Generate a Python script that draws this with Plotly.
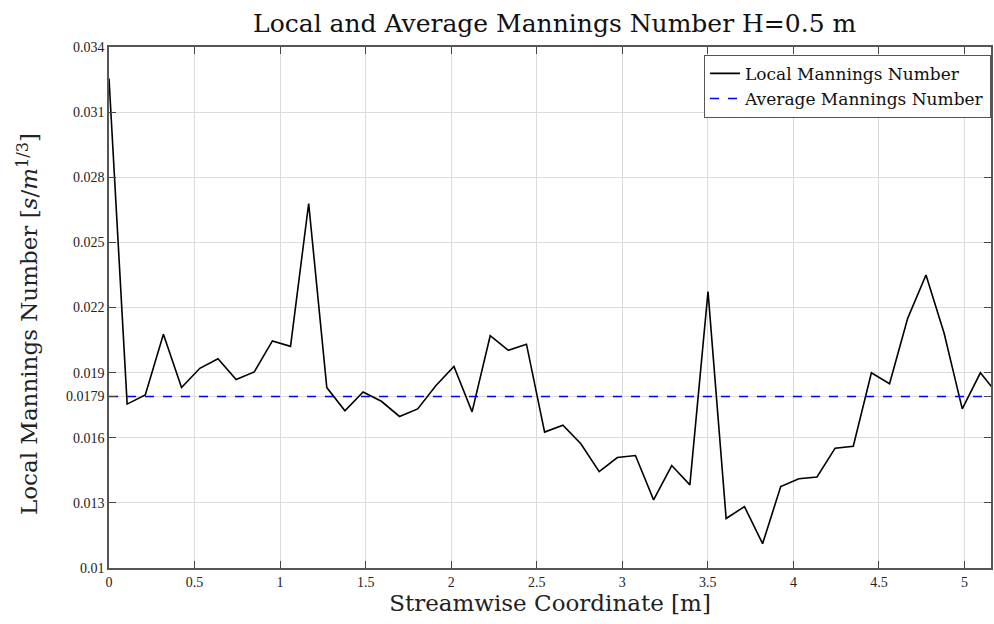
import plotly.graph_objects as go

# Streamwise positions [m] and local Manning numbers [s/m^(1/3)]
x_pos = [0.000, 0.106, 0.212, 0.318, 0.424, 0.531, 0.637, 0.743, 0.849, 0.955,
         1.061, 1.167, 1.273, 1.379, 1.485, 1.592, 1.698, 1.804, 1.910, 2.016,
         2.122, 2.228, 2.334, 2.440, 2.546, 2.653, 2.759, 2.865, 2.971, 3.077,
         3.183, 3.289, 3.395, 3.501, 3.607, 3.714, 3.820, 3.926, 4.032, 4.138,
         4.244, 4.350, 4.456, 4.562, 4.668, 4.775, 4.881, 4.987, 5.093, 5.199]
n_local = [0.03255, 0.01755, 0.01797, 0.02077, 0.01831, 0.01920, 0.01964, 0.01868, 0.01903, 0.02046,
           0.02021, 0.02679, 0.01831, 0.01724, 0.01811, 0.01768, 0.01698, 0.01733, 0.01840, 0.01928,
           0.01719, 0.02070, 0.02003, 0.02031, 0.01626, 0.01658, 0.01571, 0.01444, 0.01509, 0.01518,
           0.01314, 0.01472, 0.01383, 0.02273, 0.01228, 0.01283, 0.01112, 0.01375, 0.01411, 0.01419,
           0.01552, 0.01561, 0.01899, 0.01849, 0.02150, 0.02350, 0.02081, 0.01733, 0.01899, 0.01796]
n_average = 0.0179

x_ticks = [0, 0.5, 1, 1.5, 2, 2.5, 3, 3.5, 4, 4.5, 5]
x_tick_text = ["0", "0.5", "1", "1.5", "2", "2.5", "3", "3.5", "4", "4.5", "5"]
y_ticks = [0.01, 0.013, 0.016, 0.0179, 0.019, 0.022, 0.025, 0.028, 0.031, 0.034]
y_tick_text = ["0.01", "0.013", "0.016", "0.0179", "0.019", "0.022", "0.025", "0.028", "0.031", "0.034"]

x_max = 5.155
tick_font = "Liberation Serif"
text_font = "DejaVu Serif"

fig = go.Figure()
fig.add_trace(go.Scatter(
    x=x_pos, y=n_local, mode="lines", name="Local Mannings Number",
    line=dict(color="black", width=1.6),
))
fig.add_trace(go.Scatter(
    x=[0, x_max], y=[n_average, n_average], mode="lines", name="Average Mannings Number",
    line=dict(color="#0000ff", width=1.4, dash="dash"),
))

axis_common = dict(
    showgrid=True, gridcolor="#dcdcdc", gridwidth=1,
    showline=True, linecolor="#555555", linewidth=1.5, mirror="ticks",
    ticks="inside", ticklen=7, tickcolor="#444444", tickwidth=1,
    zeroline=False,
    tickfont=dict(family=tick_font, size=14, color="#222222"),
)

fig.update_layout(
    width=994, height=624,
    paper_bgcolor="white", plot_bgcolor="white",
    margin=dict(l=109, r=1, t=47, b=56),
    title=dict(
        text="Local and Average Mannings Number H=0.5 m",
        x=0.558, xanchor="center", y=0.963, yanchor="middle",
        font=dict(family=text_font, size=25, color="#111111"),
    ),
    xaxis=dict(
        range=[0, x_max], tickvals=x_ticks, ticktext=x_tick_text,
        title=dict(text="Streamwise Coordinate [m]", standoff=2,
                   font=dict(family=text_font, size=23, color="#222222")),
        **axis_common,
    ),
    yaxis=dict(
        range=[0.01, 0.034], tickvals=y_ticks, ticktext=y_tick_text,
        **axis_common,
    ),
    legend=dict(
        x=1, xanchor="right", y=0.985, yanchor="top",
        bgcolor="white", bordercolor="#555555", borderwidth=1,
        font=dict(family=text_font, size=17, color="#111111"),
        tracegroupgap=0, itemwidth=30,
    ),
    showlegend=True,
)

# Vertical y-axis title, placed left of the tick labels
fig.add_annotation(
    text="Local Mannings Number [<i>s</i>/<i>m</i><sup>1/3</sup>]",
    xref="paper", yref="paper", x=-0.092, y=0.468,
    xanchor="center", yanchor="middle", textangle=-90, showarrow=False,
    font=dict(family=text_font, size=23, color="#222222"),
)

fig.write_html("out.html")
